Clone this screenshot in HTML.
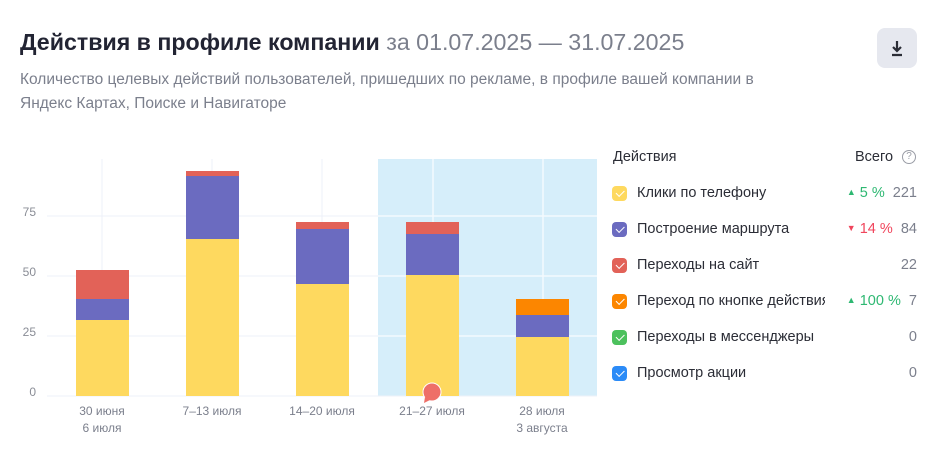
<!DOCTYPE html><html><head><meta charset="utf-8"><style>
body{margin:0;width:940px;height:460px;background:#fff;font-family:"Liberation Sans",sans-serif;position:relative;overflow:hidden}
.a{position:absolute;white-space:nowrap}
.t{left:20px;top:29px;font-size:23.2px;font-weight:bold;color:#222433}
.t span{font-weight:normal;color:#7b7f8c}
.s{left:20px;font-size:15.5px;color:#7b7f8c}
.btn{left:877px;top:28px;width:40px;height:40px;border-radius:8px;background:#e6e8ef}
.yl{font-size:12px;color:#8a8d96;width:30px;text-align:right;left:6px}
.xl{font-size:12px;color:#7b7f8c;text-align:center;width:100px;line-height:17px}
.lg{font-size:14.5px;color:#2b2d36}
.cb{left:612px;width:15px;height:15px;border-radius:4px}
.cb:after{content:"";position:absolute;left:3.5px;top:3.5px;width:7px;height:3.5px;border-left:1.6px solid #fff;border-bottom:1.6px solid #fff;transform:rotate(-45deg)}
.n{right:23px;font-size:14.5px;color:#7b7f8c;text-align:right}
.n i{font-style:normal;font-size:9px;vertical-align:2px}
</style></head><body>
<div class="a t">Действия в профиле компании <span>за 01.07.2025 — 31.07.2025</span></div>
<div class="a s" style="top:71px">Количество целевых действий пользователей, пришедших по рекламе, в профиле вашей компании в</div>
<div class="a s" style="top:95px">Яндекс Картах, Поиске и Навигаторе</div>
<div class="a btn"><svg width="40" height="40"><path d="M20 13v10M16 19l4 4 4-4M15 27h10" stroke="#2b2d36" stroke-width="2.2" fill="none"/></svg></div>
<svg class="a" style="left:0;top:0" width="600" height="440">
<rect x="378" y="159" width="219" height="237" fill="#d6eefa"/>
<g stroke="#eef1f8" stroke-width="1">
<line x1="102" y1="159" x2="102" y2="396"/><line x1="212" y1="159" x2="212" y2="396"/><line x1="322" y1="159" x2="322" y2="396"/>
<line x1="47" y1="216" x2="378" y2="216"/><line x1="47" y1="276" x2="378" y2="276"/><line x1="47" y1="336" x2="378" y2="336"/><line x1="47" y1="396" x2="597" y2="396"/>
</g>
<g stroke="#f4fafe" stroke-width="1.5">
<line x1="433" y1="159" x2="433" y2="396"/><line x1="543" y1="159" x2="543" y2="396"/>
<line x1="378" y1="216" x2="597" y2="216"/><line x1="378" y1="276" x2="597" y2="276"/><line x1="378" y1="336" x2="597" y2="336"/>
</g>
<g>
<rect x="76" y="320" width="53" height="76" fill="#fed95f"/><rect x="76" y="299" width="53" height="21" fill="#6b6bc0"/><rect x="76" y="270" width="53" height="29" fill="#e26258"/>
<rect x="186" y="239" width="53" height="157" fill="#fed95f"/><rect x="186" y="176" width="53" height="63" fill="#6b6bc0"/><rect x="186" y="171" width="53" height="5" fill="#e26258"/>
<rect x="296" y="284" width="53" height="112" fill="#fed95f"/><rect x="296" y="229" width="53" height="55" fill="#6b6bc0"/><rect x="296" y="222" width="53" height="7" fill="#e26258"/>
<rect x="406" y="275" width="53" height="121" fill="#fed95f"/><rect x="406" y="234" width="53" height="41" fill="#6b6bc0"/><rect x="406" y="222" width="53" height="12" fill="#e26258"/>
<rect x="516" y="337" width="53" height="59" fill="#fed95f"/><rect x="516" y="315" width="53" height="22" fill="#6b6bc0"/><rect x="516" y="299" width="53" height="16" fill="#fc8600"/>
</g>
<circle cx="432" cy="392" r="9" fill="#ee6f68" stroke="#fff" stroke-width="1"/><path d="M425 397l-1 6 6-3z" fill="#ee6f68"/>
</svg>
<div class="a yl" style="top:205px">75</div><div class="a yl" style="top:265px">50</div><div class="a yl" style="top:325px">25</div><div class="a yl" style="top:385px">0</div>
<div class="a xl" style="left:52px;top:403px">30 июня<br>6 июля</div>
<div class="a xl" style="left:162px;top:403px">7–13 июля</div>
<div class="a xl" style="left:272px;top:403px">14–20 июля</div>
<div class="a xl" style="left:382px;top:403px">21–27 июля</div>
<div class="a xl" style="left:492px;top:403px">28 июля<br>3 августа</div>
<div class="a lg" style="left:613px;top:149px">Действия</div>
<div class="a lg" style="left:855px;top:149px">Всего</div>
<div class="a" style="left:902px;top:150px;width:12px;height:12px;border:1.3px solid #9a9da6;border-radius:50%;font-size:10px;color:#9a9da6;text-align:center;line-height:12px">?</div>
<div class="a cb" style="top:186px;background:#fed95f"></div><div class="a lg" style="left:637px;top:185px">Клики по телефону</div>
<div class="a n" style="top:185px"><span style="color:#2eb872"><i>▲</i> 5 %</span>&nbsp; 221</div>
<div class="a cb" style="top:222px;background:#6b6bc0"></div><div class="a lg" style="left:637px;top:221px">Построение маршрута</div>
<div class="a n" style="top:221px"><span style="color:#f0455c"><i>▼</i> 14 %</span>&nbsp; 84</div>
<div class="a cb" style="top:258px;background:#e26258"></div><div class="a lg" style="left:637px;top:257px">Переходы на сайт</div>
<div class="a n" style="top:257px">22</div>
<div class="a cb" style="top:294px;background:#fc8600"></div><div class="a lg" style="left:637px;top:293px;width:188px;overflow:hidden">Переход по кнопке действия</div>
<div class="a n" style="top:293px"><span style="color:#2eb872"><i>▲</i> 100 %</span>&nbsp; 7</div>
<div class="a cb" style="top:330px;background:#4cc15d"></div><div class="a lg" style="left:637px;top:329px">Переходы в мессенджеры</div>
<div class="a n" style="top:329px">0</div>
<div class="a cb" style="top:366px;background:#2b8bf7"></div><div class="a lg" style="left:637px;top:365px">Просмотр акции</div>
<div class="a n" style="top:365px">0</div>
</body></html>
